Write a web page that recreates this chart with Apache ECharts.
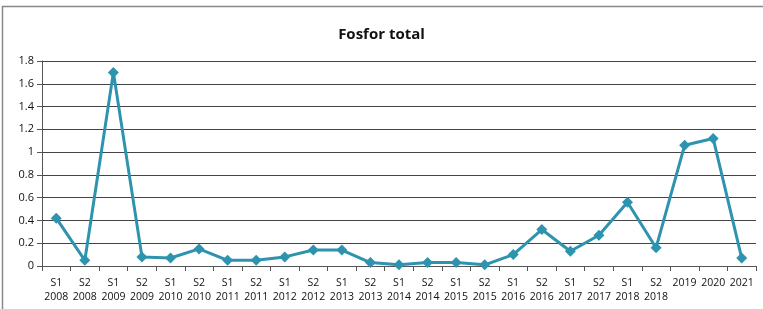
<!DOCTYPE html>
<html>
<head>
<meta charset="utf-8">
<script src="https://cdn.jsdelivr.net/npm/echarts@6/dist/echarts.min.js"></script>
<style>
  html, body { margin: 0; padding: 0; background: #fff; }
  #main { width: 763px; height: 309px; }
</style>
</head>
<body>
<div id="main"></div>
<script>
const periods = ['S1\n2008', 'S2\n2008', 'S1\n2009', 'S2\n2009', 'S1\n2010', 'S2\n2010',
  'S1\n2011', 'S2\n2011', 'S1\n2012', 'S2\n2012', 'S1\n2013', 'S2\n2013',
  'S1\n2014', 'S2\n2014', 'S1\n2015', 'S2\n2015', 'S1\n2016', 'S2\n2016',
  'S1\n2017', 'S2\n2017', 'S1\n2018', 'S2\n2018', '2019', '2020', '2021'];

const fosfor = [0.42, 0.05, 1.70, 0.08, 0.07, 0.15, 0.05, 0.05, 0.08, 0.14, 0.14, 0.03,
  0.01, 0.03, 0.03, 0.01, 0.10, 0.32, 0.13, 0.27, 0.56, 0.16, 1.06, 1.12, 0.07];

const chart = echarts.init(document.getElementById('main'));

chart.setOption({
  animation: false,
  title: {
    text: 'Fosfor total',
    left: 'center',
    top: 22,
    textStyle: { fontFamily: 'Open Sans', fontSize: 15, fontWeight: 'bold', color: '#111' }
  },
  graphic: [{
    type: 'rect',
    shape: { x: 2.5, y: 6.5, width: 800, height: 400 },
    style: { fill: 'none', stroke: '#888', lineWidth: 1.5 },
    silent: true
  }],
  grid: { left: 42, right: 7, top: 61, bottom: 43 },
  xAxis: {
    type: 'category',
    data: periods,
    boundaryGap: true,
    axisLine: { lineStyle: { color: '#555', width: 1 } },
    axisTick: { show: true, length: 5, lineStyle: { color: '#555' } },
    axisLabel: {
      interval: 0,
      margin: 10,
      fontFamily: 'Open Sans',
      fontSize: 10.5,
      lineHeight: 14,
      color: '#111'
    }
  },
  yAxis: {
    type: 'value',
    min: 0,
    max: 1.8,
    interval: 0.2,
    axisLine: { show: true, lineStyle: { color: '#555' } },
    axisTick: { show: true, length: 5, lineStyle: { color: '#555' } },
    axisLabel: { fontFamily: 'Open Sans', fontSize: 11, color: '#111', margin: 8 },
    splitLine: { lineStyle: { color: '#444', width: 1 } }
  },
  series: [{
    type: 'line',
    data: fosfor,
    symbol: 'diamond',
    symbolSize: 11,
    lineStyle: { color: '#2e93ae', width: 3 },
    itemStyle: { color: '#2e93ae' }
  }]
});
</script>
</body>
</html>
